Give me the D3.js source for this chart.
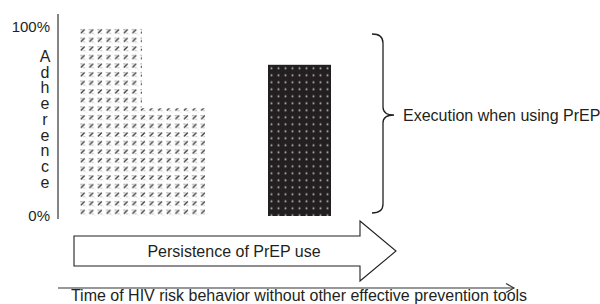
<!DOCTYPE html>
<html>
<head>
<meta charset="utf-8">
<script src="https://cdn.jsdelivr.net/npm/d3@7"></script>
<style>
  html, body { margin: 0; padding: 0; background: #fff; }
  svg { display: block; font-family: "Liberation Sans", Arial, Helvetica, sans-serif; }
</style>
</head>
<body>
<svg id="chart" width="600" height="304"></svg>
<script>
// ---- data ----
const categories = ["Early use", "Later use", "Execution"];
const slots = [0, 1, 3];                 // horizontal slot of each bar (slot 2 is an empty gap)
const adherence = [100, 57, 80];          // % adherence
const fills = ["hatch", "hatch", "dots"];
const yTicks = [0, 100];
const yTickLabels = ["0%", "100%"];
const yTitle = "Adherence";
const braceLabel = "Execution when using PrEP";
const arrowLabel = "Persistence of PrEP use";
const xTitle = "Time of HIV risk behavior without other effective prevention tools";

// ---- setup ----
const svg = d3.select("#chart");
const ink = "#231f20";
const x = d3.scaleLinear().domain([0, 4]).range([79, 331]);
const y = d3.scaleLinear().domain([0, 100]).range([216, 27]);

const defs = svg.append("defs");
const hatch = defs.append("pattern").attr("id", "hatch")
  .attr("patternUnits", "userSpaceOnUse")
  .attr("x", x(0)).attr("y", y(100))
  .attr("width", 8.6).attr("height", 8.6);
hatch.append("path").attr("d", "M1.8,6.2 L5.6,2.4").attr("stroke", "#444").attr("stroke-width", 1.6);
hatch.append("path").attr("d", "M1.2,2.6 L3.4,2.6").attr("stroke", "#9a9a9a").attr("stroke-width", 1);
hatch.append("path").attr("d", "M4.2,6.4 L6.2,6.4").attr("stroke", "#b0b0b0").attr("stroke-width", 0.9);
hatch.append("rect").attr("x", 7).attr("y", 7.4).attr("width", 1).attr("height", 1).attr("fill", "#dcdcdc");

const dots = defs.append("pattern").attr("id", "dots")
  .attr("patternUnits", "userSpaceOnUse")
  .attr("x", x(3)).attr("y", y(80))
  .attr("width", 7).attr("height", 7);
dots.append("rect").attr("width", 7).attr("height", 7).attr("fill", ink);
dots.append("rect").attr("x", 2.6).attr("y", 2.6).attr("width", 1.8).attr("height", 1.8).attr("fill", "#b0b0b0");

// ---- bars ----
svg.append("g").selectAll("rect").data(categories).join("rect")
  .attr("x", (d, i) => x(slots[i]))
  .attr("width", (d, i) => x(slots[i] + 1) - x(slots[i]))
  .attr("y", (d, i) => y(adherence[i]))
  .attr("height", (d, i) => y(0) - y(adherence[i]))
  .attr("fill", (d, i) => `url(#${fills[i]})`);

// ---- y axis ----
svg.append("line").attr("x1", 58).attr("x2", 58).attr("y1", 14).attr("y2", 219)
  .attr("stroke", "#333").attr("stroke-width", 1.2);
const yAxis = svg.append("g").attr("transform", "translate(58,0)")
  .call(d3.axisLeft(y).tickValues(yTicks).tickSize(0).tickPadding(8)
        .tickFormat((d, i) => yTickLabels[i]));
yAxis.select(".domain").remove();
yAxis.selectAll("text").attr("font-size", 15).attr("fill", ink)
  .attr("font-family", "Liberation Sans, Arial, sans-serif");

svg.append("g").selectAll("text").data(yTitle.split("")).join("text")
  .attr("x", 45).attr("y", (d, i) => 62 + i * 15.7)
  .attr("text-anchor", "middle").attr("font-size", 16).attr("fill", ink)
  .text(d => d);

// ---- brace ----
svg.append("path")
  .attr("d", "M372,34 Q383,34 383,43 L383,107 Q383,115 394,115 Q383,115 383,123 L383,204 Q383,213 372,213")
  .attr("fill", "none").attr("stroke", ink).attr("stroke-width", 1.3);
svg.append("text").attr("x", 403).attr("y", 115).attr("dy", "0.35em")
  .attr("font-size", 16).attr("fill", ink).text(braceLabel);

// ---- persistence arrow ----
const arrowPts = [[74,236],[360,236],[360,221],[396,251],[360,281],[360,266],[74,266]];
svg.append("path").attr("d", d3.line()(arrowPts) + "Z")
  .attr("fill", "#fff").attr("stroke", ink).attr("stroke-width", 1.1);
svg.append("text").attr("x", 234).attr("y", 251).attr("dy", "0.35em")
  .attr("text-anchor", "middle").attr("font-size", 16).attr("fill", ink).text(arrowLabel);

// ---- time axis ----
svg.append("line").attr("x1", 58).attr("x2", 514).attr("y1", 288).attr("y2", 288)
  .attr("stroke", "#333").attr("stroke-width", 1.2);
svg.append("path").attr("d", "M506,283.5 L514,288 L506,292.5")
  .attr("fill", "none").attr("stroke", "#333").attr("stroke-width", 1.1);
svg.append("text").attr("x", 299).attr("y", 301)
  .attr("text-anchor", "middle").attr("font-size", 16).attr("fill", ink).text(xTitle);
</script>
</body>
</html>
